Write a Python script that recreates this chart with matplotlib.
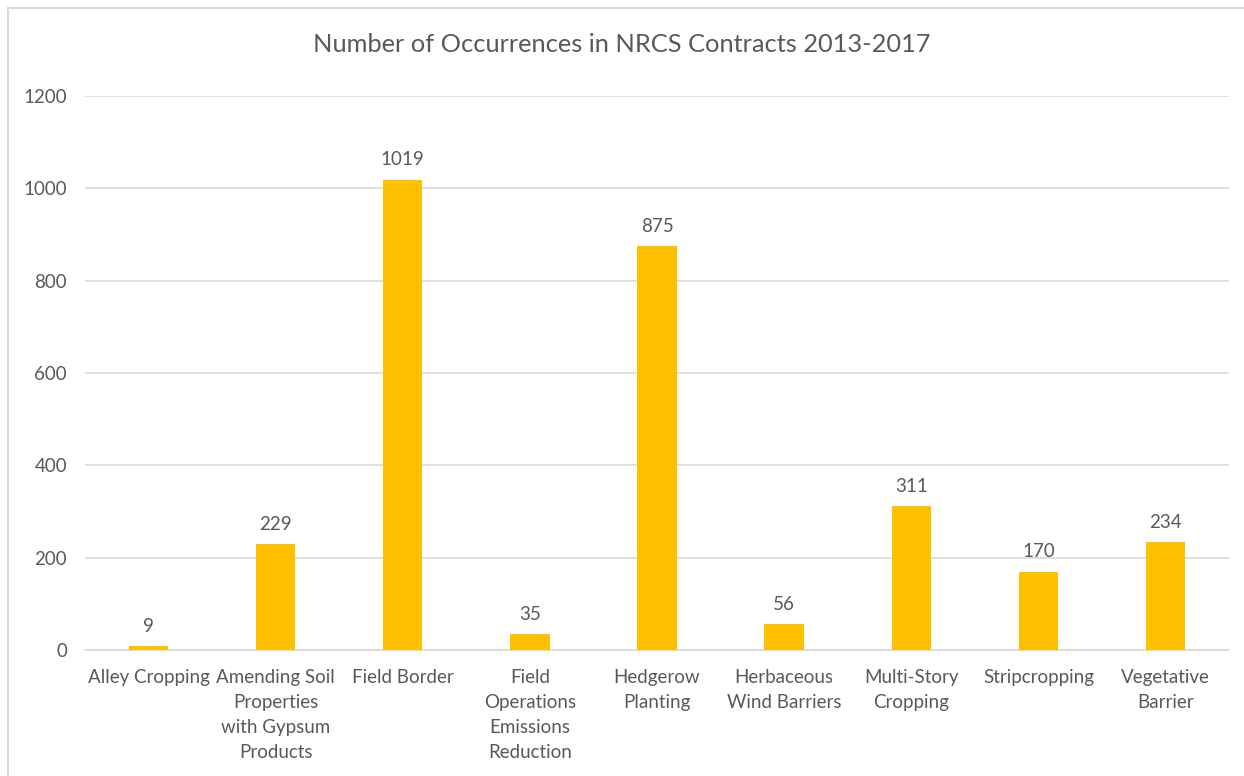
import matplotlib
matplotlib.use("Agg")
import matplotlib.pyplot as plt
from matplotlib.lines import Line2D

categories = ["Alley Cropping", "Amending Soil\nProperties\nwith Gypsum\nProducts", "Field Border",
              "Field\nOperations\nEmissions\nReduction", "Hedgerow\nPlanting", "Herbaceous\nWind Barriers",
              "Multi-Story\nCropping", "Stripcropping", "Vegetative\nBarrier"]
values = [9, 229, 1019, 35, 875, 56, 311, 170, 234]
yticks = [0, 200, 400, 600, 800, 1000, 1200]
title = "Number of Occurrences in NRCS Contracts 2013-2017"

plt.rcParams['font.family'] = ['Lato', 'DejaVu Sans']
txt = "#595959"
fs = 13.5
fig = plt.figure(figsize=(12.44, 7.76), dpi=100)
ax = fig.add_axes([85/1244, 1-650/776, (1229-85)/1244, (650-96)/776])
x = list(range(len(categories)))
ax.bar(x, values, width=0.31, color="#FFC000", zorder=3)
ax.set_xlim(-0.5, len(categories)-0.5)
ax.set_ylim(0, 1200)
ax.set_yticks(yticks)
ax.set_yticklabels([str(t) for t in yticks], fontsize=fs, color=txt)
ax.set_xticks(x)
ax.set_xticklabels(categories, fontsize=fs, color=txt, linespacing=1.55, va="top")
ax.tick_params(axis="both", length=0)
ax.tick_params(axis="y", pad=13)
ax.tick_params(axis="x", pad=14)
ax.grid(axis="y", color="#D9D9D9", linewidth=1.2, zorder=0)
for s in ["top", "right", "left"]:
    ax.spines[s].set_visible(False)
ax.spines["bottom"].set_color("#D9D9D9")
ax.spines["bottom"].set_linewidth(1.2)
for xi, v in zip(x, values):
    ax.annotate(str(v), (xi, v), xytext=(0, 8), textcoords="offset points",
                ha="center", va="bottom", fontsize=fs, color=txt)
fig.text(0.5, 1-45/776, title, ha="center", va="center", fontsize=18.3, color=txt)
fig.add_artist(Line2D([8/1244, 8/1244], [0, 1-8/776], transform=fig.transFigure, color="#D9D9D9", lw=1.5))
fig.add_artist(Line2D([8/1244, 1], [1-8/776, 1-8/776], transform=fig.transFigure, color="#D9D9D9", lw=1.5))
fig.savefig("out.png", dpi=100)
